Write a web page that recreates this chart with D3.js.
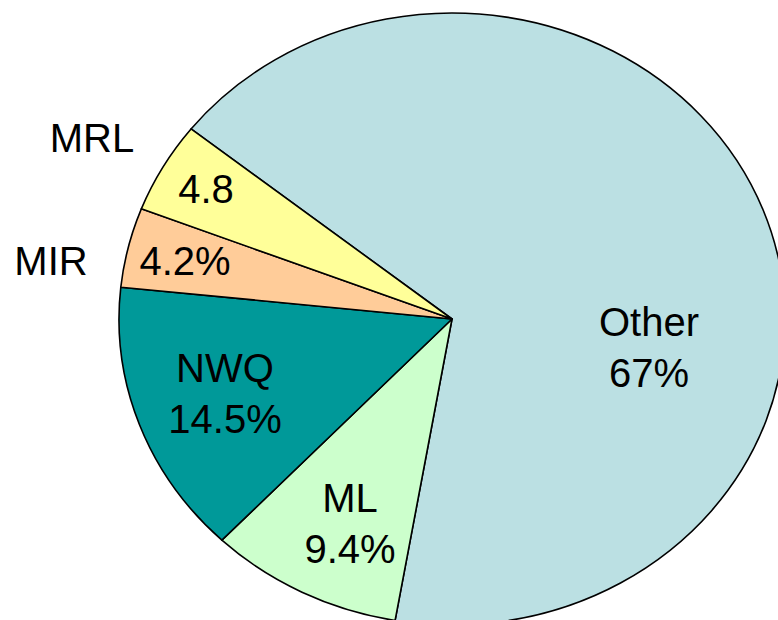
<!DOCTYPE html>
<html>
<head>
<meta charset="utf-8">
<script src="https://cdn.jsdelivr.net/npm/d3@7"></script>
<style>
  html, body { margin: 0; padding: 0; background: #fff; }
  svg { display: block; }
  text { font-family: "Liberation Sans", Arial, sans-serif; fill: #000; }
</style>
</head>
<body>
<svg id="chart" width="778" height="620"></svg>
<script>
// Share of each group, clockwise from the "Other" slice
const categories = ["Other", "ML", "NWQ", "MIR", "MRL"];
const shares = [67, 9.4, 14.5, 4.2, 4.8];
const valueLabels = ["67%", "9.4%", "14.5%", "4.2%", "4.8"];
const colors = ["#BBE0E3", "#CCFFCC", "#009999", "#FFCC99", "#FFFF99"];

// Layout
const W = 778, H = 620;
const cx = 452, cy = 319;
const ry = 306, rx = 333;           // the pie is drawn slightly wider than tall
const startDeg = -51.6;             // where the first slice begins (clockwise from 12 o'clock)
const fontSize = 40;
const lineGap = 51;

// Label placement: [x, baseline of first line] per category; names inside the
// slice for large slices, outside to the left for the two thin ones.
const labelLayout = {
  Other: { inside: [649, 336], name: true },
  ML:    { inside: [350, 512], name: true },
  NWQ:   { inside: [225, 382], name: true },
  MIR:   { inside: [185, 275], name: false, outside: [51, 275] },
  MRL:   { inside: [206, 203], name: false, outside: [92, 152] }
};

const svg = d3.select("#chart");

const data = categories.map((c, i) => ({ cat: c, value: shares[i], label: valueLabels[i], color: colors[i] }));

const start = startDeg * Math.PI / 180;
const pie = d3.pie()
  .value(d => d.value)
  .sort(null)
  .startAngle(start)
  .endAngle(start + 2 * Math.PI);

const arc = d3.arc().innerRadius(0).outerRadius(ry);

const g = svg.append("g")
  .attr("transform", `translate(${cx},${cy}) scale(${rx / ry},1)`);

g.selectAll("path")
  .data(pie(data))
  .join("path")
  .attr("d", arc)
  .attr("fill", d => d.data.color)
  .attr("stroke", "#000")
  .attr("stroke-width", 1.6)
  .attr("stroke-linejoin", "round")
  .attr("vector-effect", "non-scaling-stroke");

const labels = svg.append("g")
  .attr("font-size", fontSize)
  .attr("text-anchor", "middle");

data.forEach(d => {
  const lay = labelLayout[d.cat];
  const [x, y] = lay.inside;
  if (lay.name) {
    labels.append("text").attr("x", x).attr("y", y).text(d.cat);
    labels.append("text").attr("x", x).attr("y", y + lineGap).text(d.label);
  } else {
    labels.append("text").attr("x", x).attr("y", y).text(d.label);
    labels.append("text").attr("x", lay.outside[0]).attr("y", lay.outside[1]).text(d.cat);
  }
});
</script>
</body>
</html>
